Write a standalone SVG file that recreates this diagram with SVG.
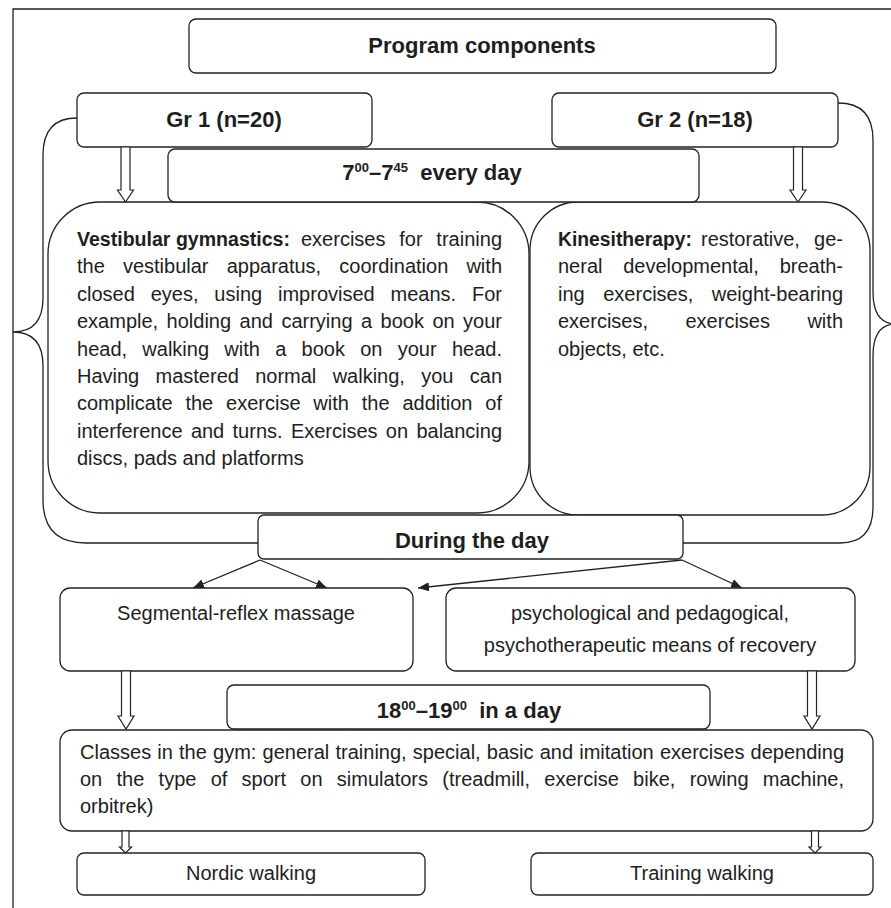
<svg xmlns="http://www.w3.org/2000/svg" width="891" height="908" viewBox="0 0 891 908">
<defs>
<style>
.box{fill:#fff;stroke:#222;stroke-width:1.3}
.t{font-family:"Liberation Sans",Arial,sans-serif;font-size:20px;fill:#1e1e1e}
.b{font-weight:bold;font-size:22px}
.bb{font-weight:bold}
.hollow{fill:#fff;stroke:#222;stroke-width:1.2}
.ln{fill:none;stroke:#222;stroke-width:1.3}
</style>
<marker id="ah" markerUnits="userSpaceOnUse" markerWidth="12" markerHeight="10" refX="11" refY="4.5" orient="auto">
<path d="M0,0 L11,4.5 L0,9 z" fill="#222"/>
</marker>
</defs>
<rect width="891" height="908" fill="#fff"/>
<path class="ln" d="M13,908 L13,9 L891,9"/>

<g id="connectors">
<path class="ln" d="M77,118 Q43,118 43,155 L43,298 Q43,332 13,332 Q43,332 43,366 L43,500 Q43,543 86,543 L258,543"/>
<path class="ln" d="M838,103 Q873,103 873,140 L873,292 Q873,324 896,324 Q873,324 873,356 L873,507 Q873,543 840,543 L683,543"/>
<path class="ln" d="M260,560 L193,588" marker-end="url(#ah)"/>
<path class="ln" d="M260,560 L327,588" marker-end="url(#ah)"/>
<path class="ln" d="M682,560 L418,588" marker-end="url(#ah)"/>
<path class="ln" d="M682,560 L742,588" marker-end="url(#ah)"/>
</g>

<g id="vestibular">
<rect class="box" x="48" y="202" width="481" height="311" rx="52"/>
<text class="t bb" x="77" y="246" textLength="213" lengthAdjust="spacingAndGlyphs">Vestibular gymnastics:</text>
<text class="t" x="301" y="246" style="word-spacing:8.2px" textLength="201" lengthAdjust="spacing">exercises for training</text>
<text class="t" x="77" y="273.4" style="word-spacing:12.6px" textLength="425" lengthAdjust="spacing">the vestibular apparatus, coordination with</text>
<text class="t" x="77" y="300.8" style="word-spacing:10.3px" textLength="425" lengthAdjust="spacing">closed eyes, using improvised means. For</text>
<text class="t" x="77" y="328.2" style="word-spacing:2.9px" textLength="425" lengthAdjust="spacing">example, holding and carrying a book on your</text>
<text class="t" x="77" y="355.6" style="word-spacing:9.7px" textLength="425" lengthAdjust="spacing">head, walking with a book on your head.</text>
<text class="t" x="77" y="383" style="word-spacing:10.8px" textLength="425" lengthAdjust="spacing">Having mastered normal walking, you can</text>
<text class="t" x="77" y="410.4" style="word-spacing:7.3px" textLength="425" lengthAdjust="spacing">complicate the exercise with the addition of</text>
<text class="t" x="77" y="437.8" style="word-spacing:2.8px" textLength="425" lengthAdjust="spacing">interference and turns. Exercises on balancing</text>
<text class="t" x="77" y="465.2">discs, pads and platforms</text>
</g>

<g id="kinesitherapy">
<rect class="box" x="530" y="202" width="340" height="313" rx="48"/>
<text class="t bb" x="558" y="246" textLength="134" lengthAdjust="spacingAndGlyphs">Kinesitherapy:</text>
<text class="t" x="701" y="246" style="word-spacing:8.6px" textLength="142" lengthAdjust="spacing">restorative, ge-</text>
<text class="t" x="558" y="273.4" style="word-spacing:15.2px" textLength="285" lengthAdjust="spacing">neral developmental, breath-</text>
<text class="t" x="558" y="300.8" style="word-spacing:13px" textLength="285" lengthAdjust="spacing">ing exercises, weight-bearing</text>
<text class="t" x="558" y="328.2" style="word-spacing:31.9px" textLength="285" lengthAdjust="spacing">exercises, exercises with</text>
<text class="t" x="558" y="355.6">objects, etc.</text>
</g>

<g id="program">
<rect class="box" x="189" y="19" width="587" height="54" rx="7"/>
<text class="t b" x="482" y="53" text-anchor="middle">Program components</text>
</g>

<g id="gr1">
<rect class="box" x="77" y="93" width="295" height="54" rx="7"/>
<text class="t b" x="224" y="127" text-anchor="middle">Gr 1 (n=20)</text>
</g>

<g id="gr2">
<rect class="box" x="552" y="93" width="286" height="54" rx="7"/>
<text class="t b" x="695" y="127" text-anchor="middle">Gr 2 (n=18)</text>
</g>

<g id="morning">
<rect class="box" x="168" y="149" width="531" height="53" rx="7"/>
<text class="t b" x="432" y="180" text-anchor="middle" xml:space="preserve">7<tspan dy="-8" font-size="13">00</tspan><tspan dy="8">–7</tspan><tspan dy="-8" font-size="13">45</tspan><tspan dy="8">  every day</tspan></text>
</g>

<g id="during">
<rect class="box" x="258" y="515" width="425" height="44" rx="6"/>
<text class="t b" x="472" y="548" text-anchor="middle">During the day</text>
</g>

<g id="massage">
<rect class="box" x="60" y="588" width="353" height="83" rx="10"/>
<text class="t" x="236" y="620" text-anchor="middle">Segmental-reflex massage</text>
</g>

<g id="psych">
<rect class="box" x="446" y="588" width="409" height="83" rx="10"/>
<text class="t" x="650" y="620" text-anchor="middle">psychological and pedagogical,</text>
<text class="t" x="650" y="652" text-anchor="middle">psychotherapeutic means of recovery</text>
</g>

<g id="evening">
<rect class="box" x="227" y="685" width="483" height="44" rx="7"/>
<text class="t b" x="469" y="718" text-anchor="middle" xml:space="preserve">18<tspan dy="-8" font-size="13">00</tspan><tspan dy="8">–19</tspan><tspan dy="-8" font-size="13">00</tspan><tspan dy="8">  in a day</tspan></text>
</g>

<g id="classes">
<rect class="box" x="60" y="730" width="813" height="101" rx="12"/>
<text class="t" x="80" y="759" style="word-spacing:0.6px" textLength="764" lengthAdjust="spacing">Classes in the gym: general training, special, basic and imitation exercises depending</text>
<text class="t" x="80" y="786" style="word-spacing:8.7px" textLength="764" lengthAdjust="spacing">on the type of sport on simulators (treadmill, exercise bike, rowing machine,</text>
<text class="t" x="80" y="813">orbitrek)</text>
</g>

<g id="nordic">
<rect class="box" x="77" y="853" width="348" height="42" rx="7"/>
<text class="t" x="251" y="880" text-anchor="middle">Nordic walking</text>
</g>

<g id="training">
<rect class="box" x="531" y="853" width="342" height="42" rx="7"/>
<text class="t" x="702" y="880" text-anchor="middle">Training walking</text>
</g>

<g id="hollow-arrows">
<polygon class="hollow" points="121,147 130,147 130,190 133.5,190 125.5,202 117.5,190 121,190"/>
<polygon class="hollow" points="793.5,147 802.5,147 802.5,190 806,190 798,202 790,190 793.5,190"/>
<polygon class="hollow" points="121.5,671 130.5,671 130.5,716 134,716 126,729 118,716 121.5,716"/>
<polygon class="hollow" points="807.5,671 816.5,671 816.5,716 820,716 812,729 804,716 807.5,716"/>
<polygon class="hollow" points="122,831 129,831 129,847 131.5,847 125.5,853 119.5,847 122,847"/>
<polygon class="hollow" points="811.5,831 818.5,831 818.5,847 821,847 815,853 809,847 811.5,847"/>
</g>
</svg>
